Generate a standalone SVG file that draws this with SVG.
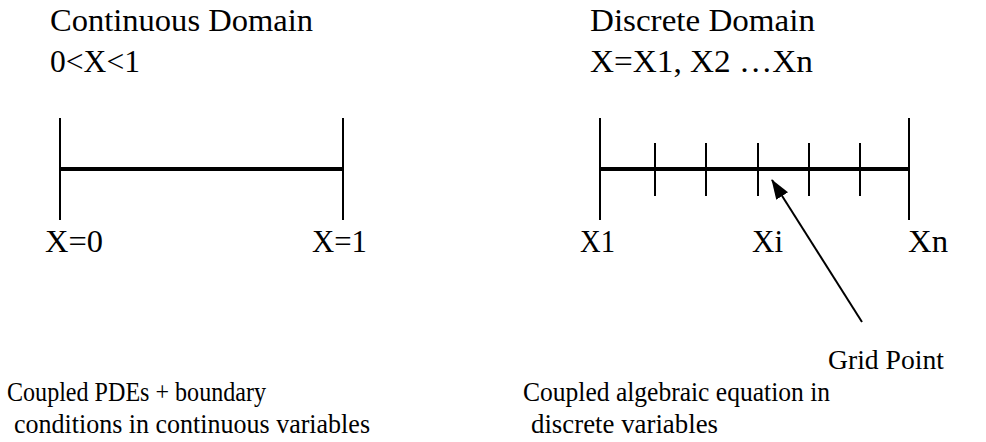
<svg xmlns="http://www.w3.org/2000/svg" width="986" height="442" viewBox="0 0 986 442">
<style>
text{font-family:"Liberation Serif","Times New Roman",serif;fill:#000;}
.t{font-size:32px;}
.b{font-size:28px;}
.thin{stroke:#000;stroke-width:2;fill:none;}
.thick{stroke:#000;stroke-width:4;fill:none;}
</style>
<defs>
<marker id="ah" markerWidth="20" markerHeight="14" refX="19" refY="7" orient="auto" markerUnits="userSpaceOnUse" viewBox="0 0 20 14">
<path d="M0,0 L20,7 L0,14 z" fill="#000"/>
</marker>
</defs>
<rect width="986" height="442" fill="#fff"/>
<g id="continuous">
<text class="t" x="50" y="31" textLength="263" lengthAdjust="spacingAndGlyphs">Continuous Domain</text>
<text class="t" x="50" y="72" textLength="90" lengthAdjust="spacingAndGlyphs">0&lt;X&lt;1</text>
<line class="thin" x1="60" y1="118" x2="60" y2="220"/>
<line class="thin" x1="343" y1="118" x2="343" y2="220"/>
<line class="thick" x1="60" y1="169" x2="343" y2="169"/>
<text class="t" x="45" y="252" textLength="58" lengthAdjust="spacingAndGlyphs">X=0</text>
<text class="t" x="312" y="252" textLength="55" lengthAdjust="spacingAndGlyphs">X=1</text>
<text class="b" x="7" y="401" textLength="259" lengthAdjust="spacingAndGlyphs">Coupled PDEs + boundary</text>
<text class="b" x="14" y="433" textLength="356" lengthAdjust="spacingAndGlyphs">conditions in continuous variables</text>
</g>
<g id="discrete">
<text class="t" x="590" y="31" textLength="225" lengthAdjust="spacingAndGlyphs">Discrete Domain</text>
<text class="t" x="590" y="72" textLength="223" lengthAdjust="spacingAndGlyphs">X=X1, X2 …Xn</text>
<line class="thin" x1="600" y1="118" x2="600" y2="220"/>
<line class="thin" x1="909" y1="118" x2="909" y2="220"/>
<line class="thin" x1="655" y1="143" x2="655" y2="196"/>
<line class="thin" x1="706" y1="143" x2="706" y2="196"/>
<line class="thin" x1="758" y1="143" x2="758" y2="196"/>
<line class="thin" x1="809" y1="143" x2="809" y2="196"/>
<line class="thin" x1="860" y1="143" x2="860" y2="196"/>
<line class="thick" x1="600" y1="169" x2="909" y2="169"/>
<text class="t" x="580" y="252" textLength="35" lengthAdjust="spacingAndGlyphs">X1</text>
<text class="t" x="752" y="252" textLength="31" lengthAdjust="spacingAndGlyphs">Xi</text>
<text class="t" x="908" y="252" textLength="40" lengthAdjust="spacingAndGlyphs">Xn</text>
<text class="b" x="523" y="401" textLength="307" lengthAdjust="spacingAndGlyphs">Coupled algebraic equation in</text>
<text class="b" x="531" y="433" textLength="187" lengthAdjust="spacingAndGlyphs">discrete variables</text>
</g>
<g id="grid-point">
<text class="b" x="828" y="369" textLength="116" lengthAdjust="spacingAndGlyphs">Grid Point</text>
</g>
<g id="connectors">
<line x1="862" y1="322" x2="772" y2="180" stroke="#000" stroke-width="2" marker-end="url(#ah)"/>
</g>
</svg>
